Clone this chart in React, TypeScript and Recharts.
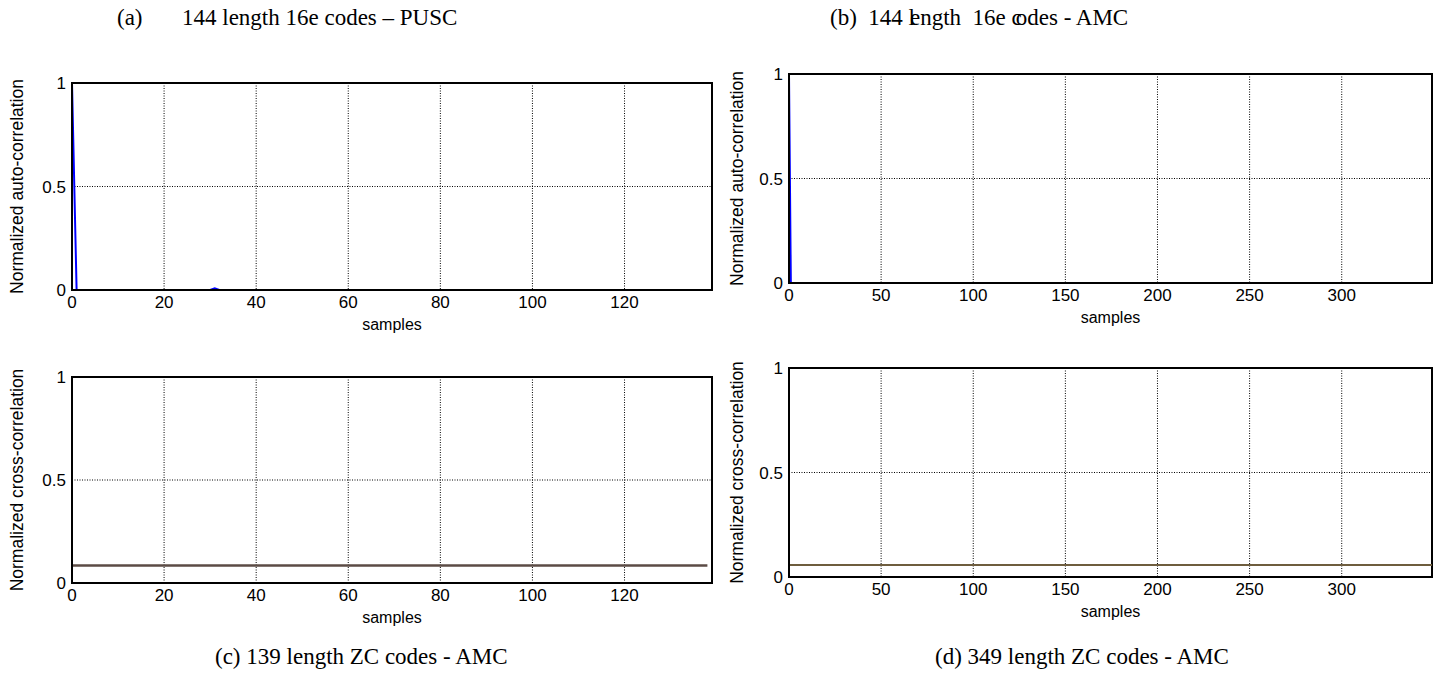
import React from 'react';
import { LineChart, Line, XAxis, YAxis, CartesianGrid, ReferenceArea } from 'recharts';

// (a) auto-correlation, 144 length 16e codes - PUSC
const autoPuscSamples = [0, 1, 30, 31, 32, 139];
const autoPuscValues = [1, 0, 0, 0.008, 0, 0];

// (b) auto-correlation, 144 length 16e codes - AMC
const autoAmcSamples = [0, 1, 349];
const autoAmcValues = [1, 0, 0];

// (c) cross-correlation, 139 length ZC codes
const crossZc139Samples = [0, 138];
const crossZc139Values = [0.085, 0.085];

// (d) cross-correlation, 349 length ZC codes
const crossZc349Samples = [0, 349];
const crossZc349Values = [0.057, 0.057];

const ticks139 = [0, 20, 40, 60, 80, 100, 120];
const ticks349 = [0, 50, 100, 150, 200, 250, 300];
const yTicks = [0, 0.5, 1];

const toRows = (xs: number[], ys: number[]) => xs.map((x, i) => ({ x, y: ys[i] }));

const sans = '"Liberation Sans", Arial, sans-serif';
const serif = '"Liberation Serif", "Times New Roman", serif';

interface PanelProps {
  left: number;
  top: number;
  margin: { top: number; right: number; bottom: number; left: number };
  data: { x: number; y: number }[];
  xMax: number;
  xTicks: number[];
  yLabel: string;
  color: string;
  strokeWidth: number;
  labelOffset: number;
}

const Panel: React.FC<PanelProps> = ({ left, top, margin, data, xMax, xTicks, yLabel, color, strokeWidth, labelOffset }) => {
  const tickStyle = { fill: '#000', fontSize: 17, fontFamily: sans };
  return (
    <div style={{ position: 'absolute', left, top }}>
      <LineChart width={722} height={300} data={data} margin={margin}>
        <CartesianGrid stroke="#000" strokeDasharray="1 1.5" strokeWidth={1} />
        <XAxis
          type="number"
          dataKey="x"
          domain={[0, xMax]}
          ticks={xTicks}
          allowDataOverflow
          height={40}
          tick={tickStyle}
          tickLine={false}
          tickSize={6}
          tickMargin={0}
          axisLine={{ stroke: '#000', strokeWidth: 2 }}
          label={{ value: 'samples', position: 'insideBottom', offset: 0, style: { fill: '#000', fontSize: 16, fontFamily: sans } }}
        />
        <YAxis
          type="number"
          domain={[0, 1]}
          ticks={yTicks}
          width={40}
          tick={tickStyle}
          tickLine={false}
          tickSize={4}
          tickMargin={2}
          axisLine={{ stroke: '#000', strokeWidth: 2 }}
          label={{
            value: yLabel,
            angle: -90,
            position: 'left',
            offset: labelOffset,
            style: { fill: '#000', fontSize: 17.5, fontFamily: sans, textAnchor: 'middle' },
          }}
        />
        <ReferenceArea x1={0} x2={xMax} y1={0} y2={1} fill="none" stroke="#000" strokeWidth={2} />
        <Line
          type="linear"
          dataKey="y"
          stroke={color}
          strokeWidth={strokeWidth}
          dot={false}
          isAnimationActive={false}
        />
      </LineChart>
    </div>
  );
};

const titleStyle: React.CSSProperties = {
  position: 'absolute',
  fontFamily: serif,
  fontSize: 23,
  color: '#000',
  whiteSpace: 'pre',
  lineHeight: '24px',
};

export default function App() {
  return (
    <div style={{ position: 'absolute', left: 0, top: 0, width: 1442, height: 692, background: '#fff', overflow: 'hidden' }}>
      <div style={{ ...titleStyle, left: 117, top: 6 }}>(a)</div>
      <div style={{ ...titleStyle, left: 182, top: 6 }}>144 length 16e codes – PUSC</div>
      <div style={{ ...titleStyle, left: 830, top: 6 }}>
        <span>(b)  144 l</span>
        <span style={{ marginLeft: -5 }}>ength  16e c</span>
        <span style={{ marginLeft: -6 }}>odes - AMC</span>
      </div>

      <Panel
        left={0}
        top={40}
        margin={{ top: 43, right: 10, bottom: 10, left: 32 }}
        data={toRows(autoPuscSamples, autoPuscValues)}
        xMax={139}
        xTicks={ticks139}
        yLabel="Normalized auto-correlation"
        color="#0000ff"
        strokeWidth={2}
        labelOffset={15}
      />
      <Panel
        left={720}
        top={40}
        margin={{ top: 34, right: 10, bottom: 17, left: 29 }}
        data={toRows(autoAmcSamples, autoAmcValues)}
        xMax={349}
        xTicks={ticks349}
        yLabel="Normalized auto-correlation"
        color="#0000ff"
        strokeWidth={2}
        labelOffset={12}
      />
      <Panel
        left={0}
        top={340}
        margin={{ top: 37, right: 10, bottom: 17, left: 32 }}
        data={toRows(crossZc139Samples, crossZc139Values)}
        xMax={139}
        xTicks={ticks139}
        yLabel="Normalized cross-correlation"
        color="#5b4b45"
        strokeWidth={2.5}
        labelOffset={15}
      />
      <Panel
        left={720}
        top={340}
        margin={{ top: 28, right: 10, bottom: 23, left: 29 }}
        data={toRows(crossZc349Samples, crossZc349Values)}
        xMax={349}
        xTicks={ticks349}
        yLabel="Normalized cross-correlation"
        color="#6e5d3e"
        strokeWidth={2}
        labelOffset={12}
      />

      <div style={{ ...titleStyle, left: 215, top: 645 }}>(c) 139 length ZC codes - AMC</div>
      <div style={{ ...titleStyle, left: 935, top: 645 }}>(d) 349 length ZC codes - AMC</div>
    </div>
  );
}
